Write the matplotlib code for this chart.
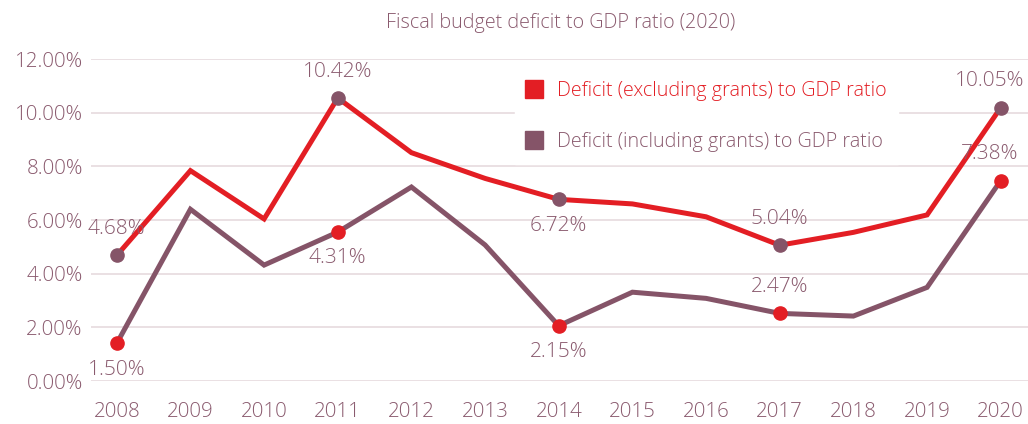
import numpy as np
import matplotlib
matplotlib.use('Agg')
import matplotlib.pyplot as plt

# Data
years = [2008, 2009, 2010, 2011, 2012, 2013, 2014, 2015, 2016, 2017, 2018, 2019, 2020]
excl_grants = [4.68, 7.84, 6.04, 10.55, 8.51, 7.55, 6.77, 6.60, 6.12, 5.06, 5.54, 6.19, 10.19]
incl_grants = [1.40, 6.40, 4.32, 5.55, 7.23, 5.07, 2.06, 3.31, 3.08, 2.52, 2.42, 3.49, 7.47]

marked_years = [2008, 2011, 2014, 2017, 2020]
excl_labels = ['4.68%', '10.42%', '6.72%', '5.04%', '10.05%']
excl_label_pos = ['above', 'above', 'below', 'above', 'above']
incl_labels = ['1.50%', '4.31%', '2.15%', '2.47%', '7.38%']
incl_label_pos = ['below', 'below', 'below', 'above', 'above']

yticks = [0, 2, 4, 6, 8, 10, 12]

RED = '#E31E24'
PURPLE = '#855468'
TEXT = '#8A5A6E'
GRID = '#E6DADE'

plt.rcParams['font.family'] = ['Open Sans', 'DejaVu Sans']
plt.rcParams['font.weight'] = 'light'

fig = plt.figure(figsize=(10.28, 4.24), dpi=100)
ax = fig.add_axes([0.0885, 0.1014, 0.9115, 0.7594])

ax.plot(years, excl_grants, color=RED, lw=3.6, solid_joinstyle='miter', zorder=3,
        label='Deficit (excluding grants) to GDP ratio')
ax.plot(years, incl_grants, color=PURPLE, lw=3.6, solid_joinstyle='miter', zorder=3,
        label='Deficit (including grants) to GDP ratio')

# markers are drawn in the other series' colour, as in the original
idx = [years.index(y) for y in marked_years]
ax.plot(marked_years, [excl_grants[i] for i in idx], 'o', color=PURPLE, ms=9.5, zorder=4)
ax.plot(marked_years, [incl_grants[i] for i in idx], 'o', color=RED, ms=9.5, zorder=4)

def add_labels(vals, labels, where):
    for yr, i, lab, w in zip(marked_years, idx, labels, where):
        off = 19 if w == 'above' else -19
        dx = -8 if yr == 2020 else 0
        ax.annotate(lab, (yr, vals[i]), xytext=(dx, off), textcoords='offset points',
                    ha='center', va='center', fontsize=15, color=TEXT, zorder=5)

add_labels(excl_grants, excl_labels, excl_label_pos)
add_labels(incl_grants, incl_labels, incl_label_pos)

ax.set_xlim(2007.65, 2020.37)
ax.set_ylim(0, 12)
ax.set_yticks(yticks)
ax.set_yticklabels(['%.2f%%' % v for v in yticks])
ax.set_xticks(years)
ax.set_xticklabels([str(y) for y in years])
ax.tick_params(axis='both', length=0, labelsize=14.8, labelcolor=TEXT)
ax.tick_params(axis='x', pad=15)
ax.tick_params(axis='y', pad=6)
ax.grid(axis='y', color=GRID, lw=1.2, zorder=0)
for s in ax.spines.values():
    s.set_visible(False)

leg = ax.legend(loc='upper left', bbox_to_anchor=(0.4425, 1.0), frameon=True,
                facecolor='white', edgecolor='white', framealpha=1, fancybox=False,
                handlelength=0.7, handleheight=0.7, fontsize=14.2, labelspacing=1.6,
                handletextpad=0.8, borderpad=0.6)
# square legend handles
for h in leg.legend_handles:
    h.set_linestyle('')
    h.set_marker('s')
    h.set_markersize(13.5)
leg.get_texts()[0].set_color(RED)
leg.get_texts()[1].set_color(TEXT)
leg.set_zorder(2)

fig.text(0.545, 0.945, 'Fiscal budget deficit to GDP ratio (2020)', ha='center', va='center',
         fontsize=14.2, color=TEXT)

fig.savefig('out.png', dpi=100)
